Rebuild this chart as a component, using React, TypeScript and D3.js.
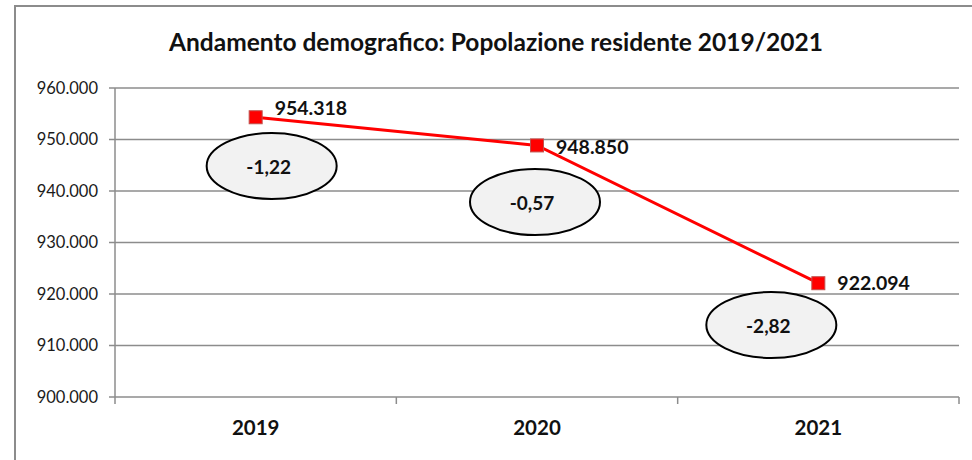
import React from 'react';
import * as d3 from 'd3';

// data
const years = ['2019', '2020', '2021'];
const population = [954318, 948850, 922094];
const variation = [-1.22, -0.57, -2.82];
const yTicks = [900000, 910000, 920000, 930000, 940000, 950000, 960000];

// where the callout ellipses sit (value units / px offset from the category centre)
const calloutValue = [944850, 937860, 913980];
const calloutShift = [16, -2, -47];
// manual nudges of the value labels (px)
const labelNudge = [-9, 2, 0];

const W = 972;
const H = 460;
const FONT = 'Lato, "Open Sans", "Liberation Sans", sans-serif';

const it = d3.formatLocale({ decimal: ',', thousands: '.', grouping: [3], currency: ['€', ''], minus: '-' });
const fmtPop = it.format(',.0f');
const fmtVar = it.format('.2f');

export default function App() {
  const x = d3.scaleBand<string>().domain(years).range([115, 959]).padding(0);
  const y = d3.scaleLinear().domain([900000, 960000]).range([397, 88]);
  const cx = (i: number) => (x(years[i]) as number) + x.bandwidth() / 2;

  const line = d3.line<number>()
    .x((_, i) => cx(i))
    .y(d => y(d));

  const bounds = years.map(yr => x(yr) as number).concat([x.range()[1]]);
  const grid = '#8c8c8c';

  return (
    <svg width={W} height={H} style={{ position: 'absolute', left: 0, top: 0, background: '#fff' }} fontFamily={FONT}>
      {/* outer chart border */}
      <rect x={15} y={6} width={W + 20} height={H + 20} fill="#fff" stroke={grid} strokeWidth={2} />

      <text x={496} y={42} dy="0.35em" textAnchor="middle" fontSize={24.5} fontWeight="bold" fill="#111">
        Andamento demografico: Popolazione residente 2019/2021
      </text>

      {/* gridlines + y axis labels */}
      {yTicks.map(t => (
        <g key={t}>
          <line x1={109} x2={x.range()[1]} y1={y(t)} y2={y(t)} stroke={grid} strokeWidth={1.5} />
          <text x={98} y={y(t)} dy="0.35em" textAnchor="end" fontSize={16.5} fill="#1a1a1a">
            {fmtPop(t)}
          </text>
        </g>
      ))}

      {/* y axis line */}
      <line x1={115} x2={115} y1={y(960000)} y2={y(900000)} stroke={grid} strokeWidth={1.5} />

      {/* category ticks */}
      {bounds.map((b, i) => (
        <line key={i} x1={b} x2={b} y1={y(900000)} y2={y(900000) + 7} stroke={grid} strokeWidth={1.5} />
      ))}

      {years.map((yr, i) => (
        <text key={yr} x={cx(i)} y={428} dy="0.35em" textAnchor="middle" fontSize={20.5} fontWeight="bold" fill="#111">
          {yr}
        </text>
      ))}

      {/* callout ellipses with the % variation */}
      {variation.map((v, i) => (
        <g key={i} transform={`translate(${cx(i) + calloutShift[i]},${y(calloutValue[i])})`}>
          <ellipse rx={65} ry={33} fill="#f2f2f2" stroke="#000" strokeWidth={2} />
          <text x={-3} y={1} dy="0.35em" textAnchor="middle" fontSize={19} fontWeight="bold" fill="#111">
            {fmtVar(v)}
          </text>
        </g>
      ))}

      {/* population line */}
      <path d={line(population) || ''} fill="none" stroke="#ff0000" strokeWidth={3} />
      {population.map((p, i) => (
        <rect key={i} x={cx(i) - 6.5} y={y(p) - 6.5} width={13} height={13} fill="#ff0000" stroke="#c0504d" strokeWidth={1} />
      ))}

      {population.map((p, i) => (
        <text key={i} x={cx(i) + 19} y={y(p) + labelNudge[i]} dy="0.35em" fontSize={19.5} fontWeight="bold" fill="#111">
          {fmtPop(p)}
        </text>
      ))}
    </svg>
  );
}
